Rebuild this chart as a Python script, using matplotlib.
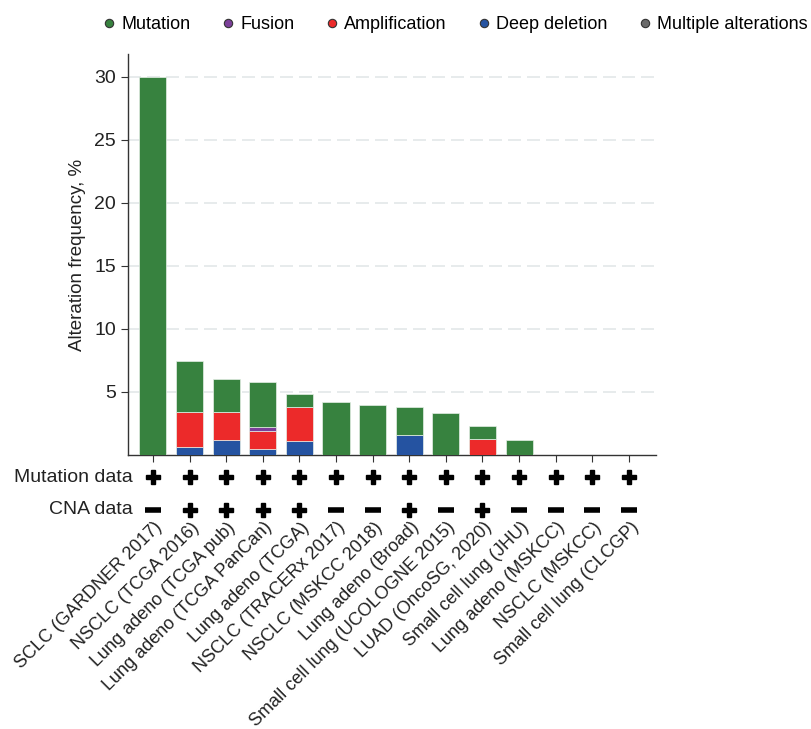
import matplotlib
matplotlib.use("Agg")
import matplotlib.pyplot as plt
from matplotlib.lines import Line2D
from matplotlib.transforms import ScaledTranslation
import numpy as np

plt.rcParams['font.family'] = ['Liberation Sans', 'DejaVu Sans']
plt.rcParams['font.size'] = 13

# studies, left to right
studies = ["SCLC (GARDNER 2017)", "NSCLC (TCGA 2016)", "Lung adeno (TCGA pub)",
           "Lung adeno (TCGA PanCan)", "Lung adeno (TCGA)", "NSCLC (TRACERx 2017)",
           "NSCLC (MSKCC 2018)", "Lung adeno (Broad)", "Small cell lung (UCOLOGNE 2015)",
           "LUAD (OncoSG, 2020)", "Small cell lung (JHU)", "Lung adeno (MSKCC)",
           "NSCLC (MSKCC)", "Small cell lung (CLCGP)"]

# stacked segments (%), bottom to top: deep deletion, amplification, fusion, mutation
deep_del = [0, 0.63, 1.21, 0.48, 1.11, 0, 0, 1.59, 0, 0, 0, 0, 0, 0]
amplif = [0, 2.81, 2.20, 1.42, 2.70, 0, 0, 0, 0, 1.25, 0, 0, 0, 0]
fusion = [0, 0, 0, 0.35, 0, 0, 0, 0, 0, 0, 0, 0, 0, 0]
mutation = [30.0, 4.0, 2.59, 3.52, 1.01, 4.2, 3.97, 2.19, 3.31, 1.03, 1.21, 0, 0, 0]

# availability rows: 1 = "+", 0 = "-"
mut_data = [1, 1, 1, 1, 1, 1, 1, 1, 1, 1, 1, 1, 1, 1]
cna_data = [0, 1, 1, 1, 1, 0, 0, 1, 0, 1, 0, 0, 0, 0]

c_mut = "#37823f"
c_fus = "#7b3f99"
c_amp = "#ec2a2a"
c_del = "#2553a1"
c_multi = "#6a6a6a"
txt = "#222222"

fig = plt.figure(figsize=(8.12, 7.29), dpi=100)
ax = fig.add_axes([128/812, 1-455/729, 528/812, 401/729])

x = np.arange(len(studies))
w = 0.74
bottom = np.zeros(len(studies))
for vals, col in [(deep_del, c_del), (amplif, c_amp), (fusion, c_fus), (mutation, c_mut)]:
    vals = np.array(vals)
    ax.bar(x, vals, w, bottom=bottom, color=col, edgecolor="#e6efe6", linewidth=0.5, zorder=3)
    bottom += vals

ax.set_xlim(-0.68, 13.74)
ax.set_ylim(0, 31.8)
ax.set_yticks([5, 10, 15, 20, 25, 30])
ax.yaxis.grid(True, linestyle=(0, (7.8, 3.6)), color="#e3e8e9", linewidth=1.2, zorder=0)
for s in ["top", "right"]:
    ax.spines[s].set_visible(False)
for s in ["left", "bottom"]:
    ax.spines[s].set_color("#333333")
    ax.spines[s].set_linewidth(1)
ax.tick_params(axis="y", length=5, color="#333333", labelsize=14, labelcolor=txt)
ax.set_ylabel("Alteration frequency, %", fontsize=13.5, color=txt)
ax.yaxis.set_label_coords(-0.08, 0.5)

ax.set_xticks(x)
ax.set_xticklabels(studies, rotation=45, ha="right", fontsize=13, color=txt)
ax.tick_params(axis="x", length=5, color="#333333", pad=41)
for lab in ax.get_xticklabels():
    lab.set_transform(lab.get_transform() + ScaledTranslation(0.13, 0, fig.dpi_scale_trans))

# data availability rows
tr = ax.get_xaxis_transform()
for row_y, flags, name in [(-0.055, mut_data, "Mutation data"), (-0.137, cna_data, "CNA data")]:
    ax.text(0.009, row_y, name, transform=ax.transAxes, ha="right", va="center",
            fontsize=14, color=txt)
    for xi, f in zip(x, flags):
        if f:
            ax.plot(xi, row_y, marker="P", markersize=10, color="black", transform=tr, clip_on=False)
        else:
            ax.plot(xi, row_y, marker="_", markersize=11, mew=4, color="black", transform=tr, clip_on=False)

handles = [Line2D([], [], marker="o", linestyle="", markersize=6, markerfacecolor=c,
                  markeredgecolor="#333333", markeredgewidth=0.8, label=l)
           for c, l in [(c_mut, "Mutation"), (c_fus, "Fusion"), (c_amp, "Amplification"),
                        (c_del, "Deep deletion"), (c_multi, "Multiple alterations")]]
fig.legend(handles=handles, loc="upper center", bbox_to_anchor=(0.558, 1.0), ncol=5,
           frameon=False, fontsize=13, handletextpad=0.1, columnspacing=1.45, handlelength=1.2)

fig.savefig("out.png", dpi=100)
